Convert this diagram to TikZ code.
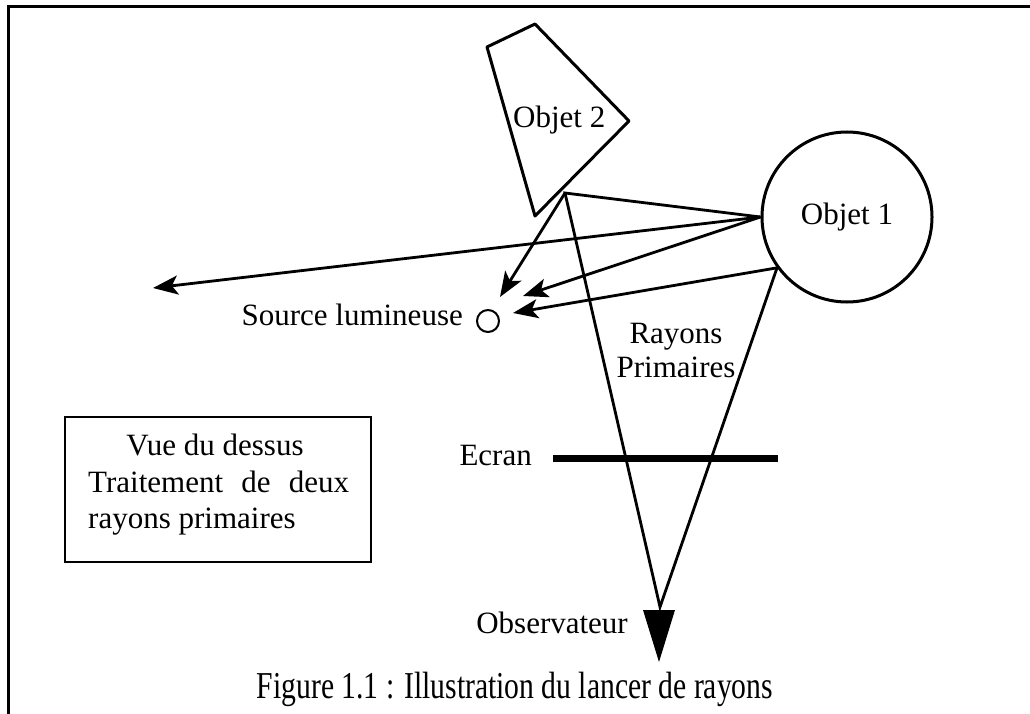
\documentclass[tikz,border=0pt]{standalone}
\usepackage{fontspec}
\setmainfont{Liberation Serif}
\usetikzlibrary{arrows.meta}
\begin{document}
\begin{tikzpicture}[x=1pt,y=-1pt,
  lbl/.style={font=\fontsize{31}{36}\selectfont, inner sep=0pt},
  edge/.style={line width=3pt, line join=round},
  ray/.style={line width=2.8pt},
  hit/.style={ray, -{Stealth[length=25pt,width=19pt,inset=6pt]}},
]
\useasboundingbox (0,0) rectangle (1030,714);

% page frame (top and left rules)
\draw[line width=3pt] (8,714) -- (8,7) -- (1030,7);

% Objet 2: quadrilateral
\coordinate (q1) at (487,47);
\coordinate (q2) at (535,24);
\coordinate (q3) at (629,121);
\coordinate (q4) at (535,216);
\draw[edge] (q1) -- (q2) -- (q3) -- (q4) -- cycle;
\node[lbl, anchor=base west] (obj2) at (513,128) {Objet 2};

% Objet 1: circle
\node[draw, circle, line width=3pt, minimum size=170pt, inner sep=0pt,
      font=\fontsize{31}{36}\selectfont] (obj1) at (847,217) {Objet 1};

% ray points
\coordinate (apex) at (565,193);
\coordinate (p1) at (obj1.west);
\coordinate (p2) at (obj1.-144);
\coordinate (eye) at (660,607);

% observer
\fill (643,610) coordinate (e1) -- (675,610) coordinate (e2) -- (659,662) coordinate (e3) -- cycle;
\node[lbl, anchor=base east] (obs) at (628,633) {Observateur};

% primary rays
\draw[ray, line join=miter] (p1) -- (apex) -- (eye) -- (p2);

% screen
\coordinate (s1) at (553,458);
\coordinate (s2) at (778,458);
\draw[line width=7pt] (s1) -- (s2);
\node[lbl, anchor=base east] (ecran) at (532,465) {Ecran};

% light source
\node[draw, circle, line width=2pt, minimum size=22pt, inner sep=0pt] (src) at (488,321) {};
\node[lbl, anchor=base east] (srclbl) at (463,325) {Source lumineuse};

% shadow rays towards the source
\coordinate (t0) at (153,288);
\coordinate (t1) at (523,296);
\coordinate (t2) at (513,313);
\coordinate (t3) at (500,297);
\draw[hit] (p1) -- (t0);
\draw[hit] (p1) -- (t1);
\draw[hit] (p2) -- (t2);
\draw[hit] (apex) -- (t3);

% label of the ray cone
\node[lbl, anchor=base] (ray1) at (676,343) {Rayons};
\node[lbl, anchor=base] (ray2) at (676,377) {Primaires};

% legend box
\node[draw, line width=2pt, minimum width=306pt, minimum height=145pt, inner sep=0pt] (box) at (218,489.5) {};
\node[lbl, anchor=base] (l1) at (215,455) {Vue du dessus};
\node[lbl, anchor=base west] (l2) at (88,492) {\makebox[261pt][s]{Traitement de deux}};
\node[lbl, anchor=base west] (l3) at (88,528) {rayons primaires};

% caption, set in a narrowed face
\node[font=\fontsize{38}{44}\selectfont, inner sep=0pt, anchor=base] (cap) at (515,698)
  {\scalebox{0.78}[1]{Figure 1.1 : Illustration du lancer de rayons}};
\end{tikzpicture}
\end{document}
